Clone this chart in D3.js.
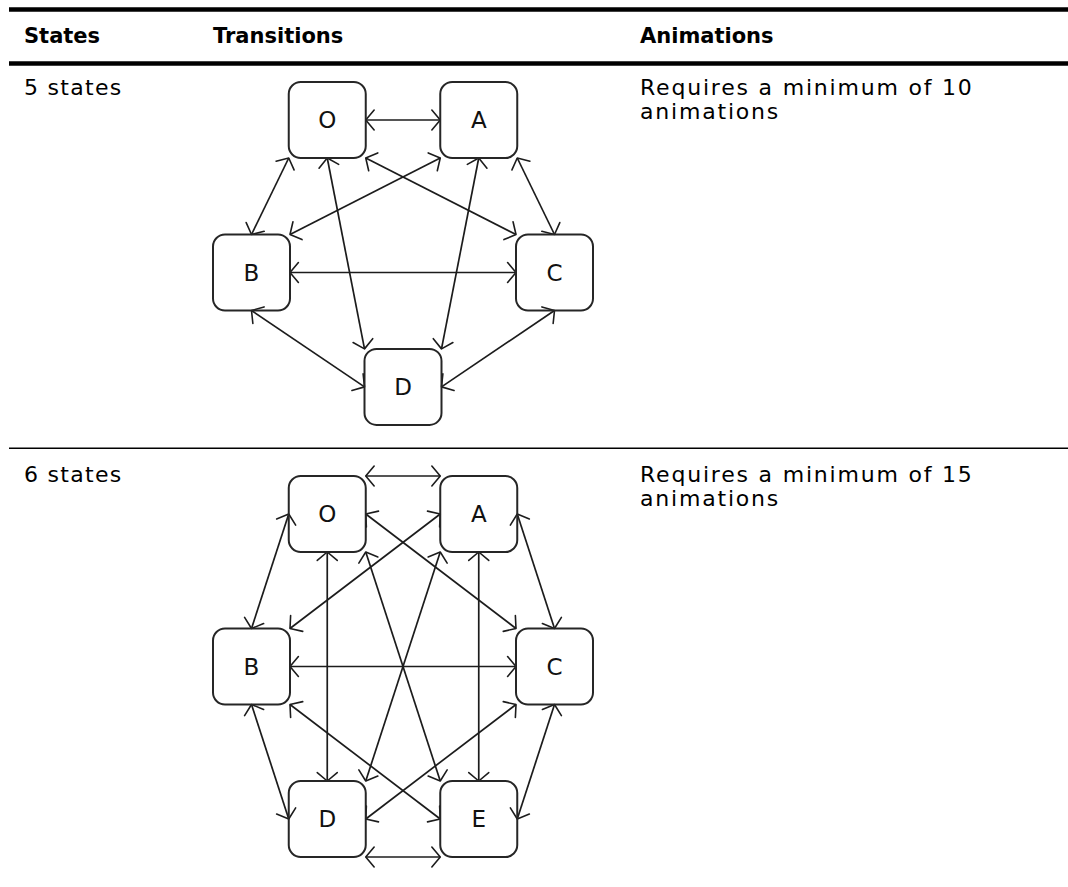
<!DOCTYPE html>
<html>
<head>
<meta charset="utf-8">
<script src="https://cdn.jsdelivr.net/npm/d3@7/dist/d3.min.js"></script>
<style>
  html, body { margin: 0; padding: 0; background: #fff; }
  svg { display: block; }
</style>
</head>
<body>
<script>
// ---------- data ----------
const headers = ["States", "Transitions", "Animations"];
const rowLabels = ["5 states", "6 states"];
const rowNotes = [
  ["Requires a minimum of 10", "animations"],
  ["Requires a minimum of 15", "animations"]
];

// diagram 1: five states (grid column / row of each state)
const nodes5 = ["O", "A", "B", "C", "D"];
const cols5  = [1, 3, 0, 4, 2];
const rows5  = [0, 0, 1, 1, 1.75];
// [from, anchor, to, anchor]
const edges5 = [
  ["O","mr","A","ml"], ["O","bl","B","tc"], ["O","br","C","tl"], ["O","bc","D","tl"],
  ["A","bl","B","tr"], ["A","br","C","tc"], ["A","bc","D","tr"],
  ["B","mr","C","ml"], ["B","bc","D","ml"],
  ["C","bc","D","mr"]
];

// diagram 2: six states
const nodes6 = ["O", "A", "B", "C", "D", "E"];
const cols6  = [1, 3, 0, 4, 1, 3];
const rows6  = [0, 0, 1, 1, 2, 2];
const edges6 = [
  ["O","tr","A","tl"], ["O","ml","B","tc"], ["O","mr","C","tl"], ["O","bc","D","tc"], ["O","br","E","tl"],
  ["A","ml","B","tr"], ["A","mr","C","tc"], ["A","bl","D","tr"], ["A","bc","E","tc"],
  ["B","mr","C","ml"], ["B","bc","D","ml"], ["B","br","E","ml"],
  ["C","bl","D","mr"], ["C","bc","E","mr"],
  ["D","br","E","bl"]
];

// ---------- layout ----------
const W = 1068, H = 887;
const colX = [24, 213, 640];
const FONT = "'DejaVu Sans', Verdana, sans-serif";
const boxW = 77, boxH = 76, boxR = 12;
const ink = "#1c1c1c";

const svg = d3.select("body").append("svg")
  .attr("width", W).attr("height", H)
  .attr("viewBox", `0 0 ${W} ${H}`);

svg.append("rect").attr("width", W).attr("height", H).attr("fill", "#fff");

// arrow marker (open V)
const defs = svg.append("defs");
defs.append("marker")
  .attr("id", "arr")
  .attr("viewBox", "-12 -12 14 24")
  .attr("refX", 0).attr("refY", 0)
  .attr("markerWidth", 14).attr("markerHeight", 24)
  .attr("markerUnits", "userSpaceOnUse")
  .attr("orient", "auto-start-reverse")
  .append("path")
  .attr("d", "M-8.4,-10 L0,0 L-8.4,10")
  .attr("fill", "none")
  .attr("stroke", ink)
  .attr("stroke-width", 1.6)
  .attr("stroke-linejoin", "round")
  .attr("stroke-linecap", "round");

// table rules
svg.append("line").attr("x1", 9).attr("x2", W).attr("y1", 9.5).attr("y2", 9.5)
  .attr("stroke", "#000").attr("stroke-width", 4.5);
svg.append("line").attr("x1", 9).attr("x2", W).attr("y1", 63.5).attr("y2", 63.5)
  .attr("stroke", "#000").attr("stroke-width", 4.5);
svg.append("line").attr("x1", 9).attr("x2", W).attr("y1", 448.3).attr("y2", 448.3)
  .attr("stroke", "#000").attr("stroke-width", 1.5);

// headers
svg.selectAll("text.hdr").data(headers).enter().append("text")
  .attr("class", "hdr")
  .attr("x", (d, i) => colX[i]).attr("y", 43)
  .attr("font-family", FONT).attr("font-weight", "bold")
  .attr("font-size", 21).attr("fill", "#000")
  .text(d => d);

// row texts
const rowBase = [95, 482];
const bodyStyle = sel => sel.attr("font-family", FONT).attr("font-size", 22)
  .attr("letter-spacing", "1.8px").attr("fill", "#000");

rowLabels.forEach((lab, r) => {
  svg.append("text").attr("x", colX[0]).attr("y", rowBase[r]).call(bodyStyle)
    .attr("letter-spacing", "1.3px").text(lab);
  rowNotes[r].forEach((line, k) => {
    svg.append("text").attr("x", colX[2]).attr("y", rowBase[r] + k * 24)
      .call(bodyStyle).text(line);
  });
});

// diagrams
const x = d3.scaleLinear().domain([0, 4]).range([251.5, 554.5]);
const yStep = d3.scaleLinear().domain([0, 1]).range([0, 152.5]);

const anchorOffset = {
  tl: [-0.5, -0.5], tc: [0, -0.5], tr: [0.5, -0.5],
  ml: [-0.5, 0],                    mr: [0.5, 0],
  bl: [-0.5, 0.5],  bc: [0, 0.5],  br: [0.5, 0.5]
};

function drawDiagram(names, cols, rows, edges, top) {
  const g = svg.append("g");
  const pos = {};
  names.forEach((n, i) => { pos[n] = [x(cols[i]), top + yStep(rows[i])]; });
  const pt = (n, a) => [pos[n][0] + anchorOffset[a][0] * boxW, pos[n][1] + anchorOffset[a][1] * boxH];

  g.selectAll("line.edge").data(edges).enter().append("line")
    .attr("class", "edge")
    .attr("x1", d => pt(d[0], d[1])[0]).attr("y1", d => pt(d[0], d[1])[1])
    .attr("x2", d => pt(d[2], d[3])[0]).attr("y2", d => pt(d[2], d[3])[1])
    .attr("stroke", ink).attr("stroke-width", 1.7)
    .attr("marker-start", "url(#arr)").attr("marker-end", "url(#arr)");

  const nd = g.selectAll("g.node").data(names).enter().append("g")
    .attr("class", "node")
    .attr("transform", d => `translate(${pos[d][0]},${pos[d][1]})`);
  nd.append("rect")
    .attr("x", -boxW / 2).attr("y", -boxH / 2)
    .attr("width", boxW).attr("height", boxH)
    .attr("rx", boxR).attr("ry", boxR)
    .attr("fill", "none").attr("stroke", "#262626").attr("stroke-width", 2);
  nd.append("text")
    .attr("text-anchor", "middle").attr("dy", "0.36em")
    .attr("font-family", FONT).attr("font-size", 23).attr("fill", "#111")
    .text(d => d);
}

drawDiagram(nodes5, cols5, rows5, edges5, 120);
drawDiagram(nodes6, cols6, rows6, edges6, 514);
</script>
</body>
</html>
